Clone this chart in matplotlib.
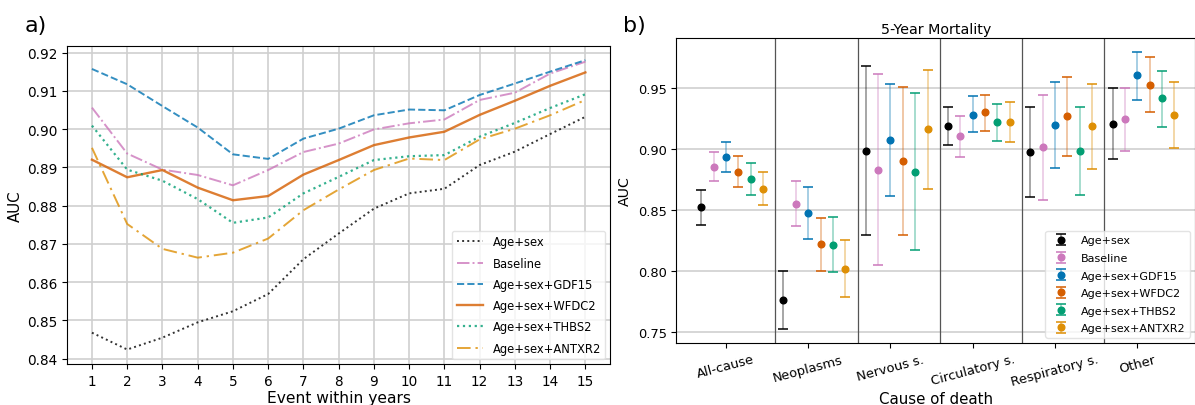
# Gerekli kütüphaneler
import numpy as np
import matplotlib
matplotlib.use("Agg")
import matplotlib.pyplot as plt
from matplotlib.ticker import MultipleLocator

# --- VERİLER ---
# a) paneli: yıl bazında AUC değerleri
years = list(range(1, 16))
auc_age_sex = [0.8468, 0.8424, 0.8455, 0.8495, 0.8524, 0.8569, 0.8660, 0.8727,
               0.8792, 0.8832, 0.8844, 0.8906, 0.8941, 0.8987, 0.9032]
auc_baseline = [0.9056, 0.8936, 0.8894, 0.8880, 0.8853, 0.8893, 0.8940, 0.8962,
                0.8999, 0.9015, 0.9025, 0.9076, 0.9095, 0.9145, 0.9176]
auc_gdf15 = [0.9157, 0.9117, 0.9060, 0.9004, 0.8934, 0.8922, 0.8975, 0.9001,
             0.9036, 0.9051, 0.9049, 0.9089, 0.9119, 0.9150, 0.9180]
auc_wfdc2 = [0.8920, 0.8874, 0.8893, 0.8847, 0.8814, 0.8825, 0.8881, 0.8919,
             0.8958, 0.8978, 0.8993, 0.9037, 0.9074, 0.9113, 0.9148]
auc_thbs2 = [0.9009, 0.8894, 0.8865, 0.8817, 0.8755, 0.8769, 0.8832, 0.8875,
             0.8919, 0.8929, 0.8932, 0.8980, 0.9016, 0.9055, 0.9091]
auc_antxr2 = [0.8951, 0.8752, 0.8687, 0.8664, 0.8677, 0.8714, 0.8788, 0.8842,
              0.8893, 0.8923, 0.8919, 0.8973, 0.9001, 0.9036, 0.9076]

model_names = ["Age+sex", "Baseline", "Age+sex+GDF15", "Age+sex+WFDC2",
               "Age+sex+THBS2", "Age+sex+ANTXR2"]

# b) paneli: ölüm nedenine göre 5 yıllık AUC (nokta, alt sınır, üst sınır)
causes = ["All-cause", "Neoplasms", "Nervous s.", "Circulatory s.",
          "Respiratory s.", "Other"]
point_age_sex = [0.8522, 0.7766, 0.8979, 0.9188, 0.8971, 0.9204]
low_age_sex = [0.8374, 0.7527, 0.8292, 0.9034, 0.8607, 0.8914]
high_age_sex = [0.8664, 0.8001, 0.9678, 0.9341, 0.9341, 0.9495]

point_baseline = [0.8851, 0.8552, 0.8829, 0.9105, 0.9012, 0.9242]
low_baseline = [0.8733, 0.8368, 0.8048, 0.8936, 0.8582, 0.8979]
high_baseline = [0.8971, 0.8733, 0.9610, 0.9270, 0.9440, 0.9500]

point_gdf15 = [0.8933, 0.8475, 0.9073, 0.9278, 0.9196, 0.9601]
low_gdf15 = [0.8812, 0.8262, 0.8612, 0.9133, 0.8842, 0.9401]
high_gdf15 = [0.9056, 0.8689, 0.9530, 0.9432, 0.9547, 0.9790]

point_wfdc2 = [0.8812, 0.8223, 0.8897, 0.9297, 0.9264, 0.9525]
low_wfdc2 = [0.8683, 0.8001, 0.8292, 0.9149, 0.8941, 0.9297]
high_wfdc2 = [0.8941, 0.8434, 0.9508, 0.9440, 0.9588, 0.9752]

point_thbs2 = [0.8752, 0.8215, 0.8812, 0.9221, 0.8979, 0.9412]
low_thbs2 = [0.8623, 0.7993, 0.8168, 0.9064, 0.8623, 0.9174]
high_thbs2 = [0.8886, 0.8442, 0.9456, 0.9366, 0.9341, 0.9637]

point_antxr2 = [0.8673, 0.8018, 0.9158, 0.9221, 0.9188, 0.9273]
low_antxr2 = [0.8536, 0.7788, 0.8667, 0.9056, 0.8837, 0.9004]
high_antxr2 = [0.8812, 0.8253, 0.9645, 0.9382, 0.9530, 0.9547]

# --- Renkler ve çizgi stilleri ---
colors = ["black", "#cc78bc", "#0173b2", "#d55e00", "#029e73", "#de8f05"]
line_styles = [":", "-.", "--", "-", ":", (0, (7, 2.5, 1.2, 2.5))]
line_widths = [1.4, 1.4, 1.4, 1.7, 1.6, 1.4]

fig = plt.figure(figsize=(11.95, 4.06), dpi=100)

# --- a) paneli ---
ax1 = fig.add_axes([0.0563, 0.101, 0.4542, 0.784])
series_a = [auc_age_sex, auc_baseline, auc_gdf15, auc_wfdc2, auc_thbs2, auc_antxr2]
for vals, name, c, ls, lw in zip(series_a, model_names, colors, line_styles, line_widths):
    ax1.plot(years, vals, linestyle=ls, color=c, lw=lw, alpha=0.8, label=name)

ax1.set_xticks(years)
ax1.yaxis.set_major_locator(MultipleLocator(0.01))
ax1.yaxis.set_major_formatter(plt.FormatStrFormatter("%.2f"))
ax1.grid(True, color="#cfcfcf", lw=1.2)
ax1.tick_params(labelsize=9.8)
ax1.set_xlabel("Event within years", fontsize=11.2, labelpad=2)
ax1.set_ylabel("AUC", fontsize=10.8, labelpad=3)
ax1.legend(loc="lower right", fontsize=8.3, handlelength=2.3, labelspacing=0.72,
           edgecolor="#dddddd", borderaxespad=0.4)

# --- b) paneli ---
ax2 = fig.add_axes([0.5661, 0.1535, 0.4339, 0.7497])
points = [point_age_sex, point_baseline, point_gdf15, point_wfdc2, point_thbs2, point_antxr2]
lows = [low_age_sex, low_baseline, low_gdf15, low_wfdc2, low_thbs2, low_antxr2]
highs = [high_age_sex, high_baseline, high_gdf15, high_wfdc2, high_thbs2, high_antxr2]

x_pos = np.arange(len(causes))
step = 0.15
for k, (p, lo, hi, name, c) in enumerate(zip(points, lows, highs, model_names, colors)):
    p = np.array(p)
    yerr = [p - np.array(lo), np.array(hi) - p]
    eb = ax2.errorbar(x_pos + (k - 2) * step, p, yerr=yerr, fmt="o", color=c, ecolor=c,
                      markersize=4.8, capsize=3.8, elinewidth=1.4, capthick=1.3,
                      label=name, zorder=3)
    eb[2][0].set_alpha(0.35)
    for cap in eb[1]:
        cap.set_alpha(0.85)

# gruplar arası dikey ayraçlar
for i in range(len(causes) - 1):
    ax2.axvline(i + 0.6, color="#555555", lw=0.9, zorder=1)

ax2.set_xlim(-0.6, 5.7)
ax2.set_xticks(x_pos)
ax2.set_xticklabels(causes, rotation=15, ha="center")
ax2.yaxis.set_major_locator(MultipleLocator(0.05))
ax2.yaxis.set_major_formatter(plt.FormatStrFormatter("%.2f"))
ax2.grid(True, axis="y", color="#cfcfcf", lw=1.2, zorder=0)
ax2.set_axisbelow(True)
ax2.tick_params(labelsize=9.4)
ax2.set_title("5-Year Mortality", fontsize=10.3, pad=4)
ax2.set_xlabel("Cause of death", fontsize=10.8, labelpad=2)
ax2.set_ylabel("AUC", fontsize=10.2, labelpad=4)
ax2.legend(loc="lower right", fontsize=8.0, labelspacing=0.68, edgecolor="#dddddd",
           borderaxespad=0.45)

# --- Panel etiketleri ---
fig.text(0.021, 0.935, "a)", fontsize=16, va="center")
fig.text(0.521, 0.935, "b)", fontsize=16, va="center")

fig.savefig("out.png", dpi=100)
